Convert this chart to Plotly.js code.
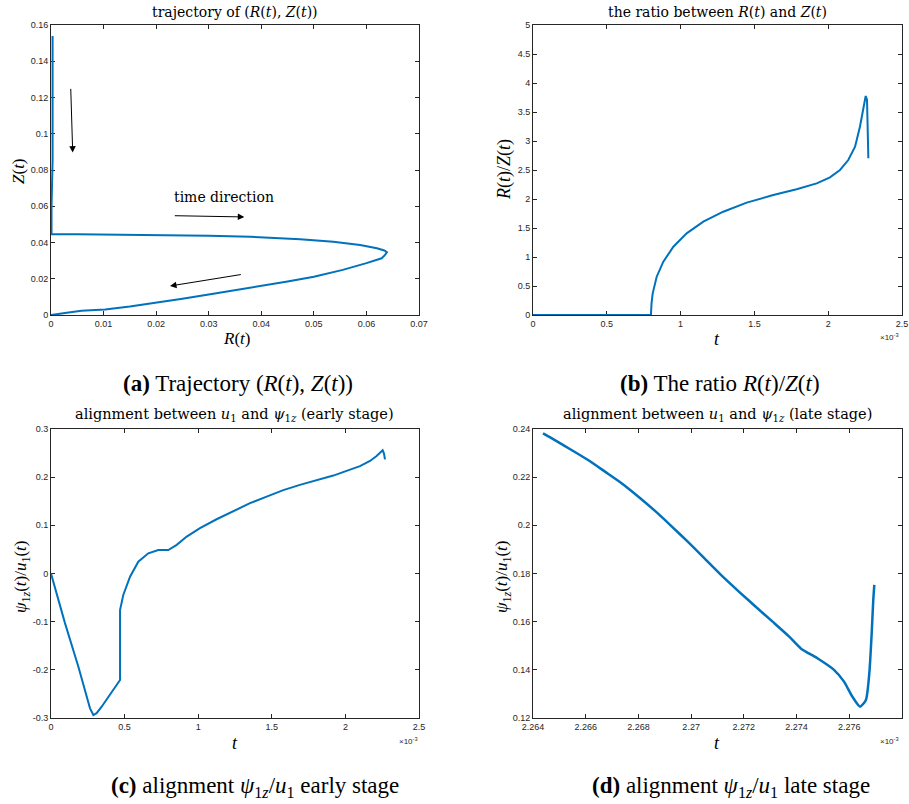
<!DOCTYPE html>
<html><head><meta charset="utf-8">
<script src="https://cdn.plot.ly/plotly-3.0.1.min.js"></script>
<style>body{margin:0;background:#fff}#g{width:909px;height:804px}</style>
</head><body><div id="g"></div>
<script>
// (a) trajectory (R, Z)
const trajR = [0.0003, 0.0003, 0.0001, 0.0001, 0.005, 0.01, 0.02, 0.03, 0.0379, 0.0474, 0.0537, 0.0588, 0.062, 0.0634, 0.0639, 0.0635, 0.0629, 0.0615, 0.06, 0.0555, 0.05, 0.045, 0.04, 0.035, 0.03, 0.025, 0.02, 0.015, 0.0103, 0.0058, 0.003, 0];
const trajZ = [0.154, 0.085, 0.06, 0.0445, 0.0445, 0.0444, 0.0441, 0.0437, 0.0432, 0.0418, 0.0404, 0.0386, 0.0368, 0.0356, 0.0346, 0.0330, 0.0313, 0.0298, 0.0286, 0.0249, 0.0211, 0.0185, 0.0160, 0.0136, 0.0113, 0.0090, 0.0068, 0.0047, 0.0031, 0.0024, 0.0012, 0];
// (b) ratio R/Z vs t (t in units of 1e-3)
const ratioT = [0, 0.799, 0.803, 0.811, 0.838, 0.883, 0.951, 1.041, 1.154, 1.289, 1.448, 1.628, 1.786, 1.922, 2.012, 2.08, 2.136, 2.182, 2.215, 2.238, 2.254, 2.263, 2.272];
const ratioV = [0, 0, 0.2, 0.374, 0.66, 0.919, 1.178, 1.408, 1.609, 1.781, 1.937, 2.069, 2.167, 2.27, 2.374, 2.5, 2.672, 2.902, 3.247, 3.591, 3.776, 3.707, 2.701];
// (c) alignment early stage
const earlyT = [0, 0.095, 0.186, 0.242, 0.265, 0.288, 0.31, 0.344, 0.401, 0.469, 0.469, 0.491, 0.537, 0.593, 0.661, 0.729, 0.797, 0.854, 0.922, 1.012, 1.125, 1.239, 1.352, 1.465, 1.578, 1.691, 1.805, 1.918, 2.008, 2.099, 2.167, 2.212, 2.253, 2.262, 2.269];
const earlyV = [0, -0.103, -0.1935, -0.2557, -0.28, -0.2938, -0.290, -0.2766, -0.252, -0.221, -0.0758, -0.0446, -0.0066, 0.0245, 0.0419, 0.0488, 0.0488, 0.0594, 0.0767, 0.094, 0.1126, 0.13, 0.146, 0.1597, 0.173, 0.184, 0.194, 0.2033, 0.213, 0.223, 0.2336, 0.244, 0.256, 0.249, 0.237];
// (d) alignment late stage
const lateT = [2.26438, 2.26483, 2.26546, 2.26609, 2.26673, 2.26736, 2.2680, 2.26863, 2.26927, 2.2699, 2.27054, 2.27117, 2.27181, 2.27244, 2.27308, 2.27371, 2.27416, 2.27479, 2.27542, 2.2758, 2.27612, 2.27641, 2.27663, 2.27676, 2.27685, 2.27691, 2.27695];
const lateV = [0.2382, 0.2354, 0.2313, 0.2271, 0.2223, 0.2175, 0.2119, 0.2060, 0.1995, 0.1929, 0.1859, 0.1790, 0.1725, 0.1663, 0.1601, 0.1539, 0.1489, 0.1448, 0.1400, 0.1351, 0.1288, 0.1247, 0.1275, 0.1386, 0.1552, 0.169, 0.1753];
// tick labels for (c) y axis
const earlyYTicks = [-0.3, -0.2, -0.1, 0, 0.1, 0.2, 0.3];
const earlyYLabels = ['-0.3', '-0.2', '-0.1', '0', '0.1', '0.2', '0.3'];

const W = 909, H = 804;
const px = x => x / W, py = y => 1 - y / H;
const blue = '#0072BD';
const axc = '#262626';
const serif = 'Liberation Serif, DejaVu Serif, serif';
const wideSerif = 'DejaVu Serif, Liberation Serif, serif';
const tickFont = {family: 'Liberation Sans, Arial, sans-serif', size: 9, color: axc};

function ax(domain, range, dtick, anchor, extra) {
  return Object.assign({
    domain: domain, range: range, dtick: dtick, tick0: range[0], anchor: anchor,
    showgrid: false, zeroline: false, showline: true, mirror: 'ticks',
    linecolor: axc, linewidth: 1, ticks: 'inside', ticklen: 4, tickcolor: axc,
    tickfont: tickFont, fixedrange: true, layer: 'below traces'
  }, extra || {});
}

const traces = [
  {x: trajR, y: trajZ, xaxis: 'x', yaxis: 'y', mode: 'lines', line: {color: blue, width: 2}},
  {x: ratioT, y: ratioV, xaxis: 'x2', yaxis: 'y2', mode: 'lines', line: {color: blue, width: 2}},
  {x: earlyT, y: earlyV, xaxis: 'x3', yaxis: 'y3', mode: 'lines', line: {color: blue, width: 2}},
  {x: lateT, y: lateV, xaxis: 'x4', yaxis: 'y4', mode: 'lines', line: {color: blue, width: 2.5, shape: 'spline', smoothing: 0.6}}
];

const dxL = [px(51), px(419)], dxR = [px(533), px(902)];
const dyT = [py(315), py(25)], dyB = [py(718), py(429)];

function ann(text, x, y, size, family, extra) {
  return Object.assign({text: text, x: px(x), y: py(y), xref: 'paper', yref: 'paper',
    xanchor: 'center', yanchor: 'middle',
    showarrow: false, font: {family: family || serif, size: size, color: '#000'}}, extra || {});
}
function arrow(ax0, ay0, x1, y1) {
  return {x: x1, y: y1, ax: ax0, ay: ay0, xref: 'x', yref: 'y', axref: 'x', ayref: 'y',
    showarrow: true, arrowhead: 2, arrowsize: 1.3, arrowwidth: 1, arrowcolor: '#000', text: ''};
}
const expFont = {family: 'Liberation Sans, Arial', size: 8, color: axc};

const annotations = [
  ann('trajectory of (<i>R</i>(<i>t</i>), <i>Z</i>(<i>t</i>))', 235, 12, 14, wideSerif),
  ann('the ratio between <i>R</i>(<i>t</i>) and <i>Z</i>(<i>t</i>)', 717, 12, 14, wideSerif),
  ann('alignment between <i>u</i><sub>1</sub> and <i>ψ</i><sub>1<i>z</i></sub> (early stage)', 234, 415, 14.5, wideSerif),
  ann('alignment between <i>u</i><sub>1</sub> and <i>ψ</i><sub>1<i>z</i></sub> (late stage)', 717, 415, 14.5, wideSerif),
  // axis titles
  ann('<i>R</i>(<i>t</i>)', 236, 339, 17),
  ann('<i>Z</i>(<i>t</i>)', 18, 171, 17, serif, {textangle: -90}),
  ann('<i>t</i>', 717, 339, 18),
  ann('<i>R</i>(<i>t</i>)/<i>Z</i>(<i>t</i>)', 505, 170, 18, serif, {textangle: -90}),
  ann('<i>t</i>', 235, 743, 18),
  ann('<i>ψ</i><sub>1<i>z</i></sub>(<i>t</i>)/<i>u</i><sub>1</sub>(<i>t</i>)', 22, 577, 17, serif, {textangle: -90}),
  ann('<i>t</i>', 717, 743, 18),
  ann('<i>ψ</i><sub>1<i>z</i></sub>(<i>t</i>)/<i>u</i><sub>1</sub>(<i>t</i>)', 503, 577, 17, serif, {textangle: -90}),
  // exponent labels
  ann('×10<sup>-3</sup>', 889, 337, 8, null, {font: expFont}),
  ann('×10<sup>-3</sup>', 408, 741, 8, null, {font: expFont}),
  ann('×10<sup>-3</sup>', 889, 741, 8, null, {font: expFont}),
  // captions
  ann('<b>(a)</b> Trajectory (<i>R</i>(<i>t</i>), <i>Z</i>(<i>t</i>))', 238, 383, 23),
  ann('<b>(b)</b> The ratio <i>R</i>(<i>t</i>)/<i>Z</i>(<i>t</i>)', 720, 383, 23),
  ann('<b>(c)</b> alignment <i>ψ</i><sub>1<i>z</i></sub>/<i>u</i><sub>1</sub> early stage', 255, 787, 23),
  ann('<b>(d)</b> alignment <i>ψ</i><sub>1<i>z</i></sub>/<i>u</i><sub>1</sub> late stage', 731, 787, 23),
  // panel (a) direction text and arrows
  {text: 'time direction', x: 0.033, y: 0.0653, xref: 'x', yref: 'y', showarrow: false,
    xanchor: 'center', yanchor: 'middle', font: {family: wideSerif, size: 14, color: '#000'}},
  arrow(0.00375, 0.1256, 0.00413, 0.0896),
  arrow(0.02327, 0.0548, 0.03677, 0.0541),
  arrow(0.0364, 0.02245, 0.02264, 0.016)
];

const layout = {
  width: W, height: H, margin: {l: 0, r: 0, t: 0, b: 0},
  paper_bgcolor: '#fff', plot_bgcolor: '#fff', showlegend: false,
  xaxis: ax(dxL, [0, 0.07], 0.01, 'y'),
  yaxis: ax(dyT, [0, 0.16], 0.02, 'x'),
  xaxis2: ax(dxR, [0, 2.5], 0.5, 'y2'),
  yaxis2: ax(dyT, [0, 5], 0.5, 'x2'),
  xaxis3: ax(dxL, [0, 2.5], 0.5, 'y3'),
  yaxis3: ax(dyB, [-0.3, 0.3], 0.1, 'x3', {tickmode: 'array', tickvals: earlyYTicks, ticktext: earlyYLabels}),
  xaxis4: ax(dxR, [2.264, 2.278], 0.002, 'y4'),
  yaxis4: ax(dyB, [0.12, 0.24], 0.02, 'x4'),
  annotations: annotations
};

Plotly.newPlot('g', traces, layout, {displayModeBar: false, staticPlot: true});
</script></body></html>
